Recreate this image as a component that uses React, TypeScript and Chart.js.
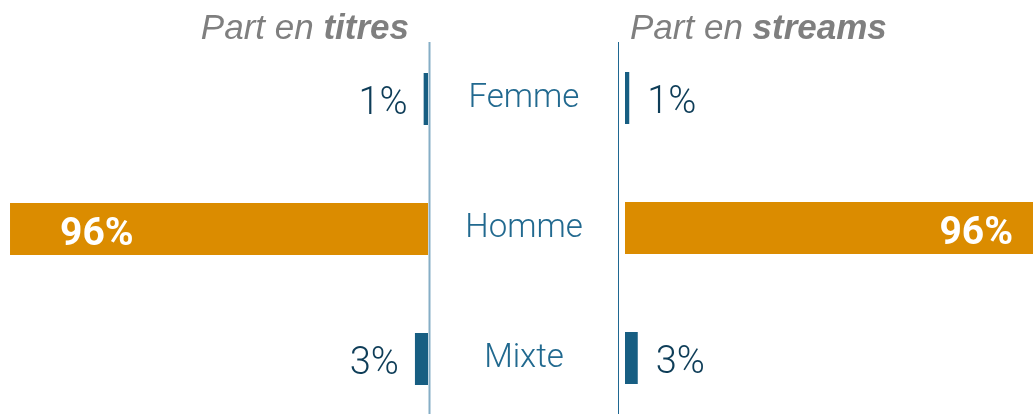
import React, { useEffect, useRef } from "react";
import { Chart, registerables } from "chart.js";

Chart.register(...registerables);

const categories = ["Femme", "Homme", "Mixte"];
const titresShare = [1, 96, 3];
const streamsShare = [1, 96, 3];
const barColors = ["#175E82", "#DB8C00", "#175E82"];
const leftTitle = ["Part en ", "titres"];
const rightTitle = ["Part en ", "streams"];

const TITLE_COLOR = "#7F7F7F";
const VALUE_COLOR = "#0E3D58";
const CAT_COLOR = "#21698F";
const TITLE_FONT = "italic 400 35px 'Liberation Sans', Arial, sans-serif";
const TITLE_BOLD = "italic 700 35px 'Liberation Sans', Arial, sans-serif";
const VALUE_FONT = "300 38px Roboto, sans-serif";
const BIG_FONT = "700 39px Roboto, sans-serif";
const CAT_FONT = "300 33px Roboto, sans-serif";

function drawTitle(ctx: CanvasRenderingContext2D, parts: string[], x: number, y: number, align: "left" | "right") {
  ctx.save();
  ctx.textBaseline = "alphabetic";
  ctx.textAlign = "left";
  ctx.fillStyle = TITLE_COLOR;
  ctx.font = TITLE_FONT;
  const w1 = ctx.measureText(parts[0]).width;
  ctx.font = TITLE_BOLD;
  const w2 = ctx.measureText(parts[1]).width;
  const start = align === "left" ? x : x - (w1 + w2);
  ctx.font = TITLE_FONT;
  ctx.fillText(parts[0], start, y);
  ctx.font = TITLE_BOLD;
  ctx.fillText(parts[1], start + w1, y);
  ctx.restore();
}

function makePlugin(side: "left" | "right") {
  return {
    id: "decor_" + side,
    afterDatasetsDraw(chart: any) {
      const ctx: CanvasRenderingContext2D = chart.ctx;
      const meta = chart.getDatasetMeta(0);
      const data = chart.data.datasets[0].data as number[];
      const area = chart.chartArea;
      meta.data.forEach((bar: any, i: number) => {
        const v = data[i];
        const p = bar.getProps(["x", "y", "base"], true);
        const txt = `${v}%`;
        ctx.save();
        ctx.textBaseline = "alphabetic";
        if (v > 50) {
          ctx.font = BIG_FONT;
          ctx.fillStyle = "#FFFFFF";
          if (side === "left") {
            ctx.textAlign = "left";
            ctx.fillText(txt, p.x + 50, p.y + 15.5);
          } else {
            ctx.textAlign = "right";
            ctx.fillText(txt, p.x - 20, p.y + 15.5);
          }
        } else {
          ctx.font = VALUE_FONT;
          ctx.fillStyle = VALUE_COLOR;
          if (side === "left") {
            ctx.textAlign = "right";
            ctx.fillText(txt, p.x - 16, p.y + 15);
          } else {
            ctx.textAlign = "left";
            ctx.fillText(txt, p.x + 18, p.y + 15);
          }
        }
        ctx.restore();
      });

      ctx.save();
      ctx.beginPath();
      if (side === "left") {
        ctx.strokeStyle = "#86AEC6";
        ctx.lineWidth = 2;
        const x = area.right + 1.5;
        ctx.moveTo(x, 42);
        ctx.lineTo(x, chart.height);
      } else {
        ctx.strokeStyle = "#1F6791";
        ctx.lineWidth = 1;
        const x = area.left - 6.5;
        ctx.moveTo(x, 42);
        ctx.lineTo(x, chart.height);
      }
      ctx.stroke();
      ctx.restore();

      if (side === "left") {
        drawTitle(ctx, leftTitle, area.right - 19, 39, "right");
      } else {
        drawTitle(ctx, rightTitle, area.left + 5, 39, "left");
        const yScale = chart.scales.y;
        ctx.save();
        ctx.font = CAT_FONT;
        ctx.fillStyle = CAT_COLOR;
        ctx.textAlign = "center";
        ctx.textBaseline = "alphabetic";
        categories.forEach((c, i) => {
          const y = yScale.getPixelForValue(i);
          ctx.fillText(c, area.left - 101, y + 9);
        });
        ctx.restore();
      }
    },
  };
}

function makeConfig(side: "left" | "right"): any {
  const values = side === "left" ? titresShare : streamsShare;
  return {
    type: "bar",
    data: {
      labels: categories,
      datasets: [
        {
          data: values,
          backgroundColor: barColors,
          borderWidth: 0,
          barPercentage: 0.5,
          categoryPercentage: 0.8,
        },
      ],
    },
    options: {
      indexAxis: "y",
      responsive: false,
      maintainAspectRatio: false,
      animation: false,
      devicePixelRatio: 1,
      layout: {
        padding:
          side === "left"
            ? { top: 34, bottom: 0, left: 0, right: 3 }
            : { top: 33, bottom: 1, left: 194, right: 0 },
      },
      plugins: {
        legend: { display: false },
        tooltip: { enabled: false },
        title: { display: false },
      },
      scales: {
        x: side === "left"
          ? { display: false, reverse: true, min: 0, max: 98.3 }
          : { display: false, min: 0, max: 96 },
        y: { display: false },
      },
    },
    plugins: [makePlugin(side)],
  };
}

export default function App() {
  const leftRef = useRef<HTMLCanvasElement>(null);
  const rightRef = useRef<HTMLCanvasElement>(null);

  useEffect(() => {
    const l = new Chart(leftRef.current as HTMLCanvasElement, makeConfig("left"));
    const r = new Chart(rightRef.current as HTMLCanvasElement, makeConfig("right"));
    return () => {
      l.destroy();
      r.destroy();
    };
  }, []);

  return (
    <div
      style={{
        position: "absolute",
        left: 0,
        top: 0,
        width: 1033,
        height: 414,
        overflow: "hidden",
        background: "#FFFFFF",
      }}
    >
      <canvas
        ref={leftRef}
        width={431}
        height={424}
        style={{ position: "absolute", left: 0, top: 0, width: 431, height: 424 }}
      />
      <canvas
        ref={rightRef}
        width={602}
        height={424}
        style={{ position: "absolute", left: 431, top: 0, width: 602, height: 424 }}
      />
    </div>
  );
}
